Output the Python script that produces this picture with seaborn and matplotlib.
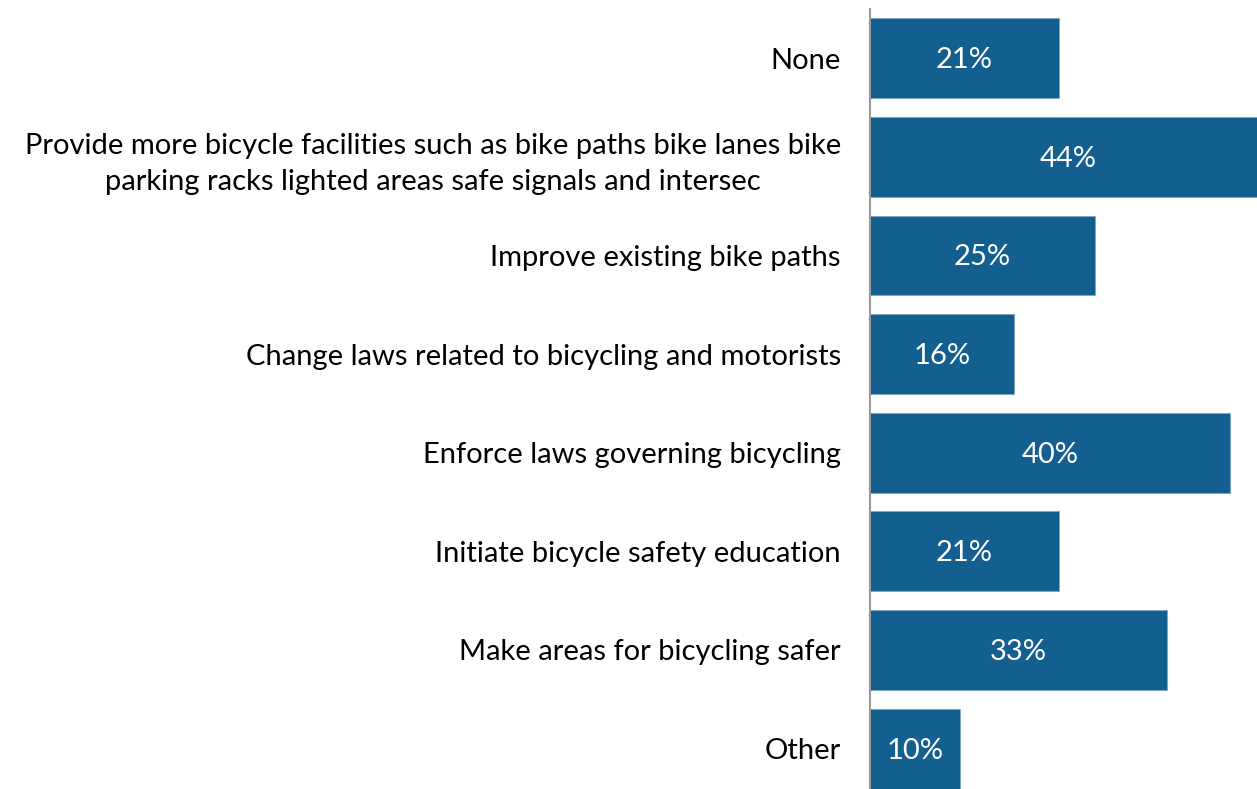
import pandas as pd
import seaborn as sns
import matplotlib.pyplot as plt

categories = [
    'None',
    'Provide more bicycle facilities such as bike paths bike lanes bike\nparking racks lighted areas safe signals and intersec',
    'Improve existing bike paths',
    'Change laws related to bicycling and motorists',
    'Enforce laws governing bicycling',
    'Initiate bicycle safety education',
    'Make areas for bicycling safer',
    'Other',
]
percents = [21, 44, 25, 16, 40, 21, 33, 10]

df = pd.DataFrame({'Option': categories, 'Percent': percents})

sns.set_style('white')
plt.rcParams['font.family'] = ['Lato', 'DejaVu Sans']

fig = plt.figure(figsize=(12.57, 7.89), dpi=100)
ax = fig.add_axes([870 / 1257, 0, 1 - 870 / 1257, 780 / 789])

sns.barplot(data=df, x='Percent', y='Option', orient='h', color='#135F90',
            saturation=1, width=0.81, edgecolor='#7fa6c4', linewidth=0.6, ax=ax)

for bar, val in zip(ax.patches, percents):
    ax.text(bar.get_x() + bar.get_width() / 2, bar.get_y() + bar.get_height() / 2 + 0.02,
            f'{val}%', color='white', ha='center', va='center', fontsize=21)

ax.set_xlim(0, 43)
ax.set_ylim(7.41, -0.5)
ax.set_xlabel('')
ax.set_ylabel('')
ax.set_xticks([])
ax.tick_params(axis='y', length=0, pad=21, labelsize=21, labelcolor='black')
for lbl in ax.get_yticklabels():
    lbl.set_multialignment('center')
    lbl.set_linespacing(1.45)
for side in ['top', 'right', 'bottom']:
    ax.spines[side].set_visible(False)
ax.spines['left'].set_color('#999999')
ax.spines['left'].set_linewidth(1.5)

fig.savefig('out.png', dpi=100)
